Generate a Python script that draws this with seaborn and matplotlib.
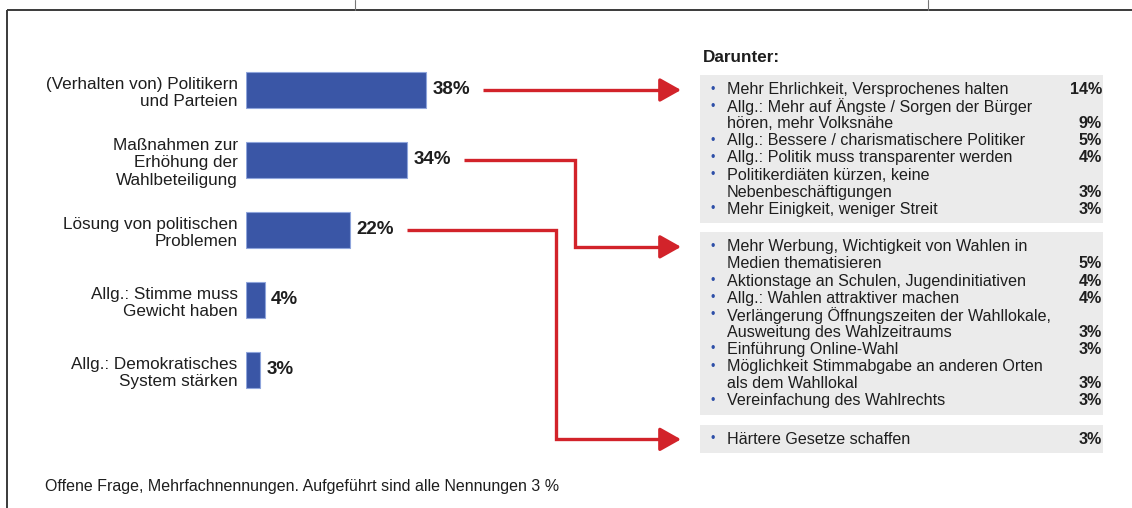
import matplotlib.pyplot as plt
import matplotlib.patches as patches
import pandas as pd
import seaborn as sns

W, H = 1132, 508

# left bar chart
CATEGORIES = [
    "(Verhalten von) Politikern\nund Parteien",
    "Maßnahmen zur\nErhöhung der\nWahlbeteiligung",
    "Lösung von politischen\nProblemen",
    "Allg.: Stimme muss\nGewicht haben",
    "Allg.: Demokratisches\nSystem stärken",
]
SHARES = [38, 34, 22, 4, 3]

# "Darunter" detail lists, one per linked bar
DETAIL_POLITIKER = [
    "Mehr Ehrlichkeit, Versprochenes halten",
    "Allg.: Mehr auf Ängste / Sorgen der Bürger\nhören, mehr Volksnähe",
    "Allg.: Bessere / charismatischere Politiker",
    "Allg.: Politik muss transparenter werden",
    "Politikerdiäten kürzen, keine\nNebenbeschäftigungen",
    "Mehr Einigkeit, weniger Streit",
]
DETAIL_POLITIKER_PCT = [14, 9, 5, 4, 3, 3]

DETAIL_MASSNAHMEN = [
    "Mehr Werbung, Wichtigkeit von Wahlen in\nMedien thematisieren",
    "Aktionstage an Schulen, Jugendinitiativen",
    "Allg.: Wahlen attraktiver machen",
    "Verlängerung Öffnungszeiten der Wahllokale,\nAusweitung des Wahlzeitraums",
    "Einführung Online-Wahl",
    "Möglichkeit Stimmabgabe an anderen Orten\nals dem Wahllokal",
    "Vereinfachung des Wahlrechts",
]
DETAIL_MASSNAHMEN_PCT = [5, 4, 4, 3, 3, 3, 3]

DETAIL_PROBLEME = ["Härtere Gesetze schaffen"]
DETAIL_PROBLEME_PCT = [3]

TITLE_RIGHT = "Darunter:"
FOOTNOTE = "Offene Frage, Mehrfachnennungen. Aufgeführt sind alle Nennungen 3 %"

BAR_COLOR = "#3A56A6"
RED = "#D2232A"
BOX = "#EBEBEB"
TEXT = "#1E1E1E"

sns.set_theme(style="white")
plt.rcParams["font.family"] = ["Liberation Sans", "DejaVu Sans"]

fig = plt.figure(figsize=(W / 100, H / 100), dpi=100)
fig.patch.set_facecolor("white")

# overlay in pixel coordinates for frame, arrows and the detail boxes
ov = fig.add_axes([0, 0, 1, 1], zorder=0)
ov.set_xlim(0, W)
ov.set_ylim(H, 0)
ov.axis("off")

# bar axes
PX_PER_PCT = 4.74
X0, XMAX = 246, 40
ROW = 70
TOP = 55
ax = fig.add_axes(
    [X0 / W, (H - TOP - ROW * len(SHARES)) / H, XMAX * PX_PER_PCT / W, ROW * len(SHARES) / H],
    zorder=2,
)
ax.patch.set_alpha(0)
df = pd.DataFrame({"label": CATEGORIES, "share": SHARES})
sns.barplot(data=df, y="label", x="share", orient="h", color=BAR_COLOR,
            width=0.51, edgecolor="#8FA5DC", linewidth=0.8, saturation=1, ax=ax)
ax.set_xlim(0, XMAX)
ax.set_ylim(len(SHARES) - 0.5, -0.5)
ax.set_xlabel("")
ax.set_ylabel("")
ax.set_xticks([])
sns.despine(ax=ax, left=True, bottom=True)
ax.tick_params(axis="y", length=0, pad=6, labelsize=12.3, labelcolor=TEXT)
for lab in ax.get_yticklabels():
    lab.set_linespacing(1.24)
for container in ax.containers:
    ax.bar_label(container, fmt="%d%%", padding=4.5, fontsize=13.5, weight="bold", color=TEXT)

# frame of the slide
ov.plot([7, W], [10, 10], color="#3A3A3A", lw=1.4, solid_capstyle="butt")
ov.plot([7, 7], [10, H], color="#3A3A3A", lw=1.4, solid_capstyle="butt")
for tx in (355, 928):
    ov.plot([tx, tx], [0, 10], color="#777777", lw=0.8)

ov.text(703, 58, TITLE_RIGHT, fontsize=12.3, weight="bold", color=TEXT, va="center")

LINE = 17.1
BOX_L, BOX_R = 700, 1103
FS = 11.6


def detail_box(top, items, pcts):
    nlines = sum(t.count("\n") + 1 for t in items)
    height = nlines * LINE + 11.5
    ov.add_patch(patches.Rectangle((BOX_L, top), BOX_R - BOX_L, height,
                                   facecolor=BOX, edgecolor="none"))
    y = top + 6 + LINE / 2
    first = y
    for text, pct in zip(items, pcts):
        lines = text.split("\n")
        ov.text(713, y, "•", fontsize=9, color="#2E4FA8", va="center", ha="center")
        for i, line in enumerate(lines):
            ov.text(727, y + i * LINE, line, fontsize=FS, color=TEXT, va="center")
        ov.text(1102, y + (len(lines) - 1) * LINE, f"{pct}%", fontsize=FS,
                weight="bold", color=TEXT, va="center", ha="right")
        y += len(lines) * LINE
    return first, top + height


y1, b1 = detail_box(75, DETAIL_POLITIKER, DETAIL_POLITIKER_PCT)
y2, b2 = detail_box(b1 + 9, DETAIL_MASSNAHMEN, DETAIL_MASSNAHMEN_PCT)
y3, b3 = detail_box(b2 + 10, DETAIL_PROBLEME, DETAIL_PROBLEME_PCT)


def connector(bar_idx, target_y, elbow_x=None):
    sy = TOP + ROW * (bar_idx + 0.5)
    sx = X0 + SHARES[bar_idx] * PX_PER_PCT + 57
    if elbow_x is None:
        xs, ys = [sx, 668], [sy, sy]
    else:
        xs, ys = [sx, elbow_x, elbow_x, 668], [sy, sy, target_y, target_y]
    ov.plot(xs, ys, color=RED, lw=2.4, solid_joinstyle="miter", solid_capstyle="butt")
    ov.annotate("", xy=(681, target_y), xytext=(666, target_y),
                arrowprops=dict(arrowstyle="-|>,head_length=0.8,head_width=0.45",
                                color=RED, lw=2.4, mutation_scale=16,
                                shrinkA=0, shrinkB=0))


connector(0, TOP + ROW * 0.5)
connector(1, y2, elbow_x=575)
connector(2, y3, elbow_x=556)

ov.text(45, 486, FOOTNOTE, fontsize=11.5, color=TEXT, va="center")

fig.savefig("out.png", dpi=100, facecolor="white")
